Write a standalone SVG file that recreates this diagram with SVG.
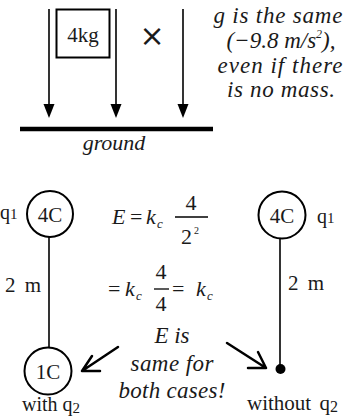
<svg xmlns="http://www.w3.org/2000/svg" width="356" height="418" viewBox="0 0 356 418">
<style>
text{font-family:"Liberation Serif","Times New Roman",serif;fill:#1a1a1a}
.it{font-style:italic}
.lbl{font-size:20px}
.note{font-size:23px;font-style:italic;text-anchor:middle}
.math{font-size:22px}
.sub{font-size:13px}
.ln{stroke:#000;stroke-width:1.6;fill:none}
.node{fill:none;stroke:#000;stroke-width:2}
.big{stroke:#000;stroke-width:2.5;fill:none;stroke-linecap:round}
</style>
<rect width="356" height="418" fill="#fff"/>

<!-- top: gravity -->
<g id="box4kg">
<rect x="56.5" y="9.5" width="53" height="48" fill="none" stroke="#000" stroke-width="2"/>
<text x="83" y="42" text-anchor="middle" style="font-size:21px">4kg</text>
</g>
<g id="cross">
<text x="152" y="46" text-anchor="middle" style="font-size:30px;font-family:'DejaVu Sans',sans-serif">×</text>
</g>
<g id="gravity-arrows">
<line x1="49" y1="9" x2="49" y2="104" class="ln"/>
<path d="M43.5,104 L54.5,104 L49,118 Z"/>
<line x1="116" y1="9" x2="116" y2="104" class="ln"/>
<path d="M110.5,104 L121.5,104 L116,118 Z"/>
<line x1="183" y1="9" x2="183" y2="104" class="ln"/>
<path d="M177.5,104 L188.5,104 L183,118 Z"/>
</g>
<g id="ground">
<line x1="20" y1="129" x2="213" y2="129" stroke="#000" stroke-width="4.5"/>
<text x="114" y="150" class="it" text-anchor="middle" style="font-size:22px">ground</text>
</g>
<g id="note-g">
<text class="note" x="278" y="23" textLength="129" lengthAdjust="spacing">g is the same</text>
<text class="note" x="281" y="48">(−9.8 m/s<tspan dy="-10" style="font-size:12px">2</tspan><tspan dy="10">),</tspan></text>
<text class="note" x="280" y="73" textLength="125" lengthAdjust="spacing">even if there</text>
<text class="note" x="281" y="97" textLength="108" lengthAdjust="spacing">is no mass.</text>
</g>

<g id="connectors">
<line x1="49" y1="237" x2="49" y2="348" class="ln"/>
<line x1="280" y1="238" x2="280" y2="366" class="ln"/>
<path class="big" d="M118,347 L82,371 M82,371 L100,371 M82,371 L92,356"/>
<path class="big" d="M227,343 L266,368 M266,368 L248,368 M266,368 L258,352"/>
</g>

<!-- bottom left: with q2 -->
<g id="q1-left">
<circle cx="50" cy="214" r="23" class="node"/>
<text x="50" y="222" text-anchor="middle" style="font-size:21px">4C</text>
<text x="0" y="219" class="lbl">q<tspan style="font-size:15px">1</tspan></text>
</g>
<g id="dist-left">
<text x="5" y="292" style="font-size:21px;word-spacing:4px">2 m</text>
</g>
<g id="q2">
<circle cx="48" cy="371" r="23.5" class="node"/>
<text x="48" y="379" text-anchor="middle" style="font-size:21px">1C</text>
<text x="51" y="411" class="lbl" text-anchor="middle">with q<tspan dy="2" style="font-size:15px">2</tspan></text>
</g>

<!-- bottom right: without q2 -->
<g id="q1-right">
<circle cx="282" cy="215" r="23.5" class="node"/>
<text x="282" y="223" text-anchor="middle" style="font-size:21px">4C</text>
<text x="317" y="223" class="lbl">q<tspan style="font-size:15px">1</tspan></text>
</g>
<g id="dist-right">
<text x="288" y="290" style="font-size:21px;word-spacing:4px">2 m</text>
</g>
<g id="point">
<circle cx="280.5" cy="369" r="5" fill="#000"/>
<text x="247" y="410" style="font-size:21px;word-spacing:3px">without q<tspan dy="2" style="font-size:16px">2</tspan></text>
</g>

<!-- equation -->
<g id="equation">
<text x="112" y="224" class="math it">E</text>
<text x="130" y="224" class="math">=</text>
<text x="146" y="224" class="math it">k</text>
<text x="157" y="228" class="sub it">c</text>
<text x="191" y="210" class="math" text-anchor="middle">4</text>
<line x1="175" y1="217" x2="208" y2="217" stroke="#000" stroke-width="1.3"/>
<text x="181" y="244" class="math">2</text>
<text x="194" y="234" style="font-size:10px">2</text>

<text x="108" y="296" class="math">=</text>
<text x="125" y="296" class="math it">k</text>
<text x="136" y="300" class="sub it">c</text>
<text x="161" y="279" class="math" text-anchor="middle">4</text>
<line x1="154" y1="289" x2="169" y2="289" stroke="#000" stroke-width="1.3"/>
<text x="161" y="311" class="math" text-anchor="middle">4</text>
<text x="172" y="296" class="math">=</text>
<text x="196" y="296" class="math it">k</text>
<text x="207" y="300" class="sub it">c</text>
</g>
<g id="note-E">
<text class="note" x="172" y="343">E is</text>
<text class="note" x="172" y="371" textLength="83" lengthAdjust="spacing">same for</text>
<text class="note" x="172" y="398" textLength="107" lengthAdjust="spacing">both cases!</text>
</g>
</svg>
